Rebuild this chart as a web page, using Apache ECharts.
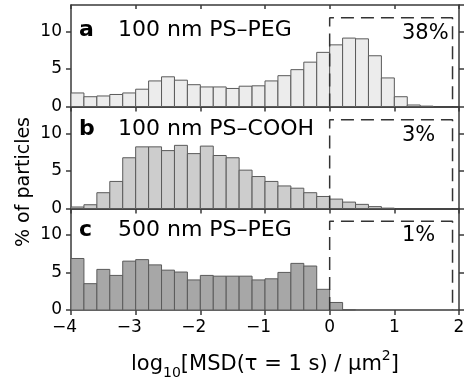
<!DOCTYPE html>
<html>
<head>
<meta charset="utf-8">
<script src="https://cdn.jsdelivr.net/npm/echarts@6/dist/echarts.min.js"></script>
<style>html,body{margin:0;padding:0;background:#fff;}#c{width:474px;height:387px;}</style>
</head>
<body>
<div id="c"></div>
<script>
// ---- data ----
const binStart = -4;
const binWidth = 0.2;
const peg100  = [1.8, 1.3, 1.4, 1.6, 1.8, 2.3, 3.4, 3.95, 3.5, 2.9, 2.6, 2.6, 2.4, 2.7, 2.75, 3.4, 4.1, 4.9, 5.9, 7.2, 8.2, 9.1, 9.0, 6.75, 3.8, 1.3, 0.2, 0.05, 0, 0];
const cooh100 = [0.2, 0.5, 2.1, 3.6, 6.75, 8.2, 8.2, 7.7, 8.4, 7.3, 8.3, 7.05, 6.75, 5.1, 4.25, 3.6, 3.0, 2.7, 2.1, 1.6, 1.25, 0.85, 0.55, 0.25, 0.05, 0, 0, 0, 0, 0];
const peg500  = [6.85, 3.5, 5.4, 4.6, 6.5, 6.7, 6.0, 5.3, 5.05, 4.0, 4.6, 4.5, 4.5, 4.5, 4.0, 4.15, 5.0, 6.2, 5.85, 2.75, 1.0, 0.05, 0, 0, 0, 0, 0, 0, 0, 0];
const panelLetters = ['a', 'b', 'c'];
const panelTitles = ['100 nm PS–PEG', '100 nm PS–COOH', '500 nm PS–PEG'];
const fastPercent = ['38%', '3%', '1%'];
const boxX = [0, 1.9];
const boxTop = 11.8;
const xMin = -4, xMax = 2, xStep = 1;
const yMin = 0, yMax = 13.5, yStep = 5;
const xTitle = '{a|log}{s|10}{a|[MSD(τ = 1 s) / μm}{p|2}{a|]}';
const yTitle = '% of particles';

// ---- layout / style ----
const series = [peg100, cooh100, peg500];
const fills = ['#ececec', '#cdcdcd', '#a7a7a7'];
const gridTops = [5, 107, 208.5];
const gridH = 101.5;
const FONT = '"DejaVu Sans", sans-serif';
const axisCol = '#3a3a3a';
const lineStyle = {color: axisCol, width: 1.5};

const chart = echarts.init(document.getElementById('c'), null, {renderer: 'canvas'});

const grids = [], xAxes = [], yAxes = [], allSeries = [], graphics = [];
series.forEach((vals, i) => {
  grids.push({left: 71, right: 15, top: gridTops[i], height: gridH});
  xAxes.push({
    gridIndex: i, type: 'value', position: 'bottom', min: xMin, max: xMax, interval: xStep,
    axisLine: {show: true, onZero: false, lineStyle},
    axisTick: {show: true, inside: false, length: 5, lineStyle},
    splitLine: {show: false},
    axisLabel: {
      show: i === 2, margin: 9, color: '#000', fontFamily: FONT, fontSize: 17,
      formatter: v => v < 0 ? '{m|−' + (-v) + '}{pad|}' : '{m|' + v + '}',
      rich: {m: {fontFamily: FONT, fontSize: 17, color: '#000'}, pad: {width: 13}}
    },
    name: i === 2 ? xTitle : '', nameLocation: 'middle', nameGap: 39,
    nameTextStyle: {
      color: '#000', fontFamily: FONT, fontSize: 21,
      rich: {
        a: {fontFamily: FONT, fontSize: 21, color: '#000'},
        s: {fontFamily: FONT, fontSize: 14, color: '#000', padding: [16, 0, 0, 0]},
        p: {fontFamily: FONT, fontSize: 14, color: '#000', padding: [0, 0, 18, 0]}
      }
    }
  });
  xAxes.push({
    gridIndex: i, type: 'value', position: 'top', min: xMin, max: xMax, interval: xStep,
    axisLine: {show: true, onZero: false, lineStyle},
    axisTick: {show: true, inside: true, length: 4, lineStyle},
    splitLine: {show: false}, axisLabel: {show: false}
  });
  yAxes.push({
    gridIndex: i, type: 'value', position: 'left', min: yMin, max: yMax, interval: yStep,
    axisLine: {show: true, onZero: false, lineStyle},
    axisTick: {show: true, inside: false, length: 5, lineStyle},
    splitLine: {show: false},
    axisLabel: {show: true, margin: 9, color: '#000', fontFamily: FONT, fontSize: 17, showMaxLabel: false}
  });
  yAxes.push({
    gridIndex: i, type: 'value', position: 'right', min: yMin, max: yMax, interval: yStep,
    axisLine: {show: true, onZero: false, lineStyle},
    axisTick: {show: true, inside: false, length: 5, lineStyle},
    splitLine: {show: false}, axisLabel: {show: false}
  });

  const data = vals.map((v, k) => [binStart + k * binWidth, binStart + (k + 1) * binWidth, v]);
  const fill = fills[i];
  allSeries.push({
    type: 'custom', xAxisIndex: 2 * i, yAxisIndex: 2 * i, coordinateSystem: 'cartesian2d',
    encode: {x: [0, 1], y: 2}, data, z: 2,
    renderItem: (params, api) => {
      const v = api.value(2);
      if (!(v > 0)) return null;
      const p0 = api.coord([api.value(0), 0]);
      const p1 = api.coord([api.value(1), v]);
      return {
        type: 'rect',
        shape: {x: p0[0], y: p1[1], width: p1[0] - p0[0], height: p0[1] - p1[1]},
        style: {fill: fill, stroke: '#5a5a5a', lineWidth: 1}
      };
    }
  });
  allSeries.push({
    type: 'line', xAxisIndex: 2 * i, yAxisIndex: 2 * i, z: 5,
    data: [[boxX[0], 0], [boxX[0], boxTop], [boxX[1], boxTop], [boxX[1], 0]],
    symbol: 'none', silent: true,
    lineStyle: {color: '#333', width: 1.5, type: [13, 7]}
  });
});

const titleY = [30, 129.5, 230.5];
const pctY = [33.5, 135.5, 235.5];
series.forEach((_, i) => {
  graphics.push({type: 'text', z: 10, style: {x: 79, y: titleY[i], text: panelLetters[i], fill: '#000',
    font: 'bold 22px ' + FONT, align: 'left', verticalAlign: 'middle'}});
  graphics.push({type: 'text', z: 10, style: {x: 118, y: titleY[i], text: panelTitles[i], fill: '#000',
    font: '22px ' + FONT, align: 'left', verticalAlign: 'middle'}});
  graphics.push({type: 'text', z: 10, style: {x: 402, y: pctY[i], text: fastPercent[i], fill: '#000',
    font: '21px ' + FONT, align: 'left', verticalAlign: 'middle'}});
});
graphics.push({type: 'text', z: 10, x: 24, y: 182, rotation: Math.PI / 2,
  style: {x: 0, y: 0, text: yTitle, fill: '#000', font: '19px ' + FONT, align: 'center', verticalAlign: 'middle'}});

chart.setOption({
  animation: false,
  backgroundColor: '#fff',
  grid: grids, xAxis: xAxes, yAxis: yAxes, series: allSeries, graphic: graphics
});
</script>
</body>
</html>
